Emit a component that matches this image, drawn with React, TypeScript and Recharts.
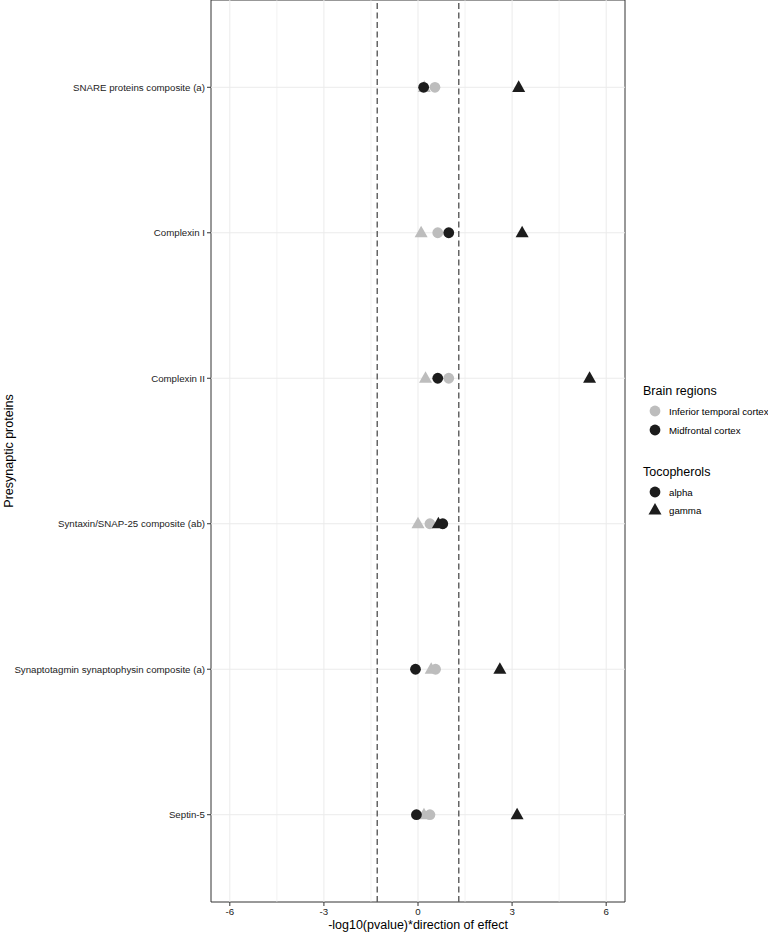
import React from 'react';
import { ScatterChart, Scatter, XAxis, YAxis, ReferenceLine, ReferenceArea } from 'recharts';

const proteins = [
  'SNARE proteins composite (a)',
  'Complexin I',
  'Complexin II',
  'Syntaxin/SNAP-25 composite (ab)',
  'Synaptotagmin synaptophysin composite (a)',
  'Septin-5',
];

// -log10(pvalue)*direction, per protein (top to bottom)
const itcAlpha = [0.54, 0.63, 0.98, 0.38, 0.56, 0.38];
const itcGamma = [0.2, 0.1, 0.24, 0.0, 0.42, 0.19];
const mfAlpha = [0.18, 0.98, 0.63, 0.79, -0.08, -0.05];
const mfGamma = [3.21, 3.32, 5.47, 0.65, 2.61, 3.16];

const xTicks = [-6, -3, 0, 3, 6];
const xMinor = [-4.5, -1.5, 1.5, 4.5];
const thresholds = [-1.3, 1.3];

const regions = [
  { name: 'Inferior temporal cortex', color: '#bdbdbd' },
  { name: 'Midfrontal cortex', color: '#1c1c1c' },
];
const tocopherols = [
  { name: 'alpha', shape: 'circle' },
  { name: 'gamma', shape: 'triangle' },
];

const FONT = '"Liberation Sans", Arial, Helvetica, sans-serif';
const GREY = '#bdbdbd';
const BLACK = '#1c1c1c';
const SMALL = 9.7;

const toPoints = (vals: number[]) => vals.map((v, i) => ({ x: v, y: i + 1 }));

const makeShape = (kind: string, color: string) => (props: any) => {
  const { cx, cy } = props;
  if (kind === 'triangle') {
    return (
      <polygon
        points={`${cx},${cy - 7} ${cx - 6.5},${cy + 4.6} ${cx + 6.5},${cy + 4.6}`}
        fill={color}
      />
    );
  }
  return <circle cx={cx} cy={cy} r={5.4} fill={color} />;
};

// y tick labels: one line, right aligned against the tick mark
const ProteinTick = (props: any) => {
  const { x, y, payload } = props;
  return (
    <text x={x} y={y} dy={3.5} textAnchor="end" fontSize={SMALL} fill="#222" fontFamily={FONT}>
      {proteins[payload.value - 1] ?? ''}
    </text>
  );
};

const YTitle = (props: any) => {
  const { viewBox } = props;
  const cx = 8.5;
  const cy = viewBox.y + viewBox.height / 2;
  return (
    <text
      x={cx}
      y={cy}
      transform={`rotate(-90, ${cx}, ${cy})`}
      textAnchor="middle"
      dominantBaseline="central"
      fontSize={12.5}
      fill="#000"
      fontFamily={FONT}
    >
      Presynaptic proteins
    </text>
  );
};

const LegendBox = () => (
  <svg width={132} height={150} style={{ position: 'absolute', left: 636, top: 375 }} fontFamily={FONT}>
    <text x={7} y={20} fontSize={12.5} fill="#000">Brain regions</text>
    {regions.map((r, i) => (
      <g key={r.name}>
        <circle cx={19} cy={36 + i * 19} r={5.4} fill={r.color} />
        <text x={33} y={39.5 + i * 19} fontSize={SMALL} fill="#000">{r.name}</text>
      </g>
    ))}
    <text x={7} y={101} fontSize={12.5} fill="#000">Tocopherols</text>
    {tocopherols.map((t, i) => {
      const cy = 117 + i * 18;
      return (
        <g key={t.name}>
          {t.shape === 'circle' ? (
            <circle cx={19} cy={cy} r={5.4} fill={BLACK} />
          ) : (
            <polygon points={`19,${cy - 7} 12.5,${cy + 4.6} 25.5,${cy + 4.6}`} fill={BLACK} />
          )}
          <text x={33} y={cy + 3.5} fontSize={SMALL} fill="#000">{t.name}</text>
        </g>
      );
    })}
  </svg>
);

export default function App() {
  return (
    <div style={{ position: 'absolute', left: 0, top: 0, width: 768, height: 932, background: '#fff', fontFamily: FONT }}>
      <ScatterChart width={768} height={932} margin={{ top: 0, right: 143, bottom: 0, left: 0 }}>
        <XAxis
          type="number"
          dataKey="x"
          domain={[-6.6, 6.6]}
          ticks={xTicks}
          allowDataOverflow
          height={30}
          axisLine={false}
          tickSize={4}
          tickLine={{ stroke: '#333' }}
          tick={{ fontSize: SMALL, fill: '#222', fontFamily: FONT }}
          label={{ value: '-log10(pvalue)*direction of effect', position: 'insideBottom', offset: 3, fontSize: 12.5, fill: '#000', fontFamily: FONT }}
        />
        <YAxis
          type="number"
          dataKey="y"
          domain={[0.4, 6.6]}
          reversed
          ticks={[1, 2, 3, 4, 5, 6]}
          allowDataOverflow
          width={211}
          axisLine={false}
          tickSize={4}
          tickLine={{ stroke: '#333' }}
          tick={<ProteinTick />}
          label={<YTitle />}
        />
        {xMinor.map((v) => (
          <ReferenceLine key={`mn${v}`} x={v} stroke="#ebebeb" strokeWidth={0.6} />
        ))}
        {xTicks.map((v) => (
          <ReferenceLine key={`mj${v}`} x={v} stroke="#ebebeb" strokeWidth={1} />
        ))}
        {proteins.map((p, i) => (
          <ReferenceLine key={p} y={i + 1} stroke="#ebebeb" strokeWidth={1} />
        ))}
        {thresholds.map((v) => (
          <ReferenceLine key={`th${v}`} x={v} stroke="#5a5a5a" strokeWidth={1.4} strokeDasharray="6 3.5" />
        ))}
        <ReferenceArea x1={-6.6} x2={6.6} y1={0.4} y2={6.6} fill="none" stroke="#333" strokeWidth={1} ifOverflow="visible" />
        <Scatter name="ITC gamma" data={toPoints(itcGamma)} shape={makeShape('triangle', GREY)} isAnimationActive={false} />
        <Scatter name="ITC alpha" data={toPoints(itcAlpha)} shape={makeShape('circle', GREY)} isAnimationActive={false} />
        <Scatter name="MF alpha" data={toPoints(mfAlpha)} shape={makeShape('circle', BLACK)} isAnimationActive={false} />
        <Scatter name="MF gamma" data={toPoints(mfGamma)} shape={makeShape('triangle', BLACK)} isAnimationActive={false} />
      </ScatterChart>
      <LegendBox />
    </div>
  );
}
